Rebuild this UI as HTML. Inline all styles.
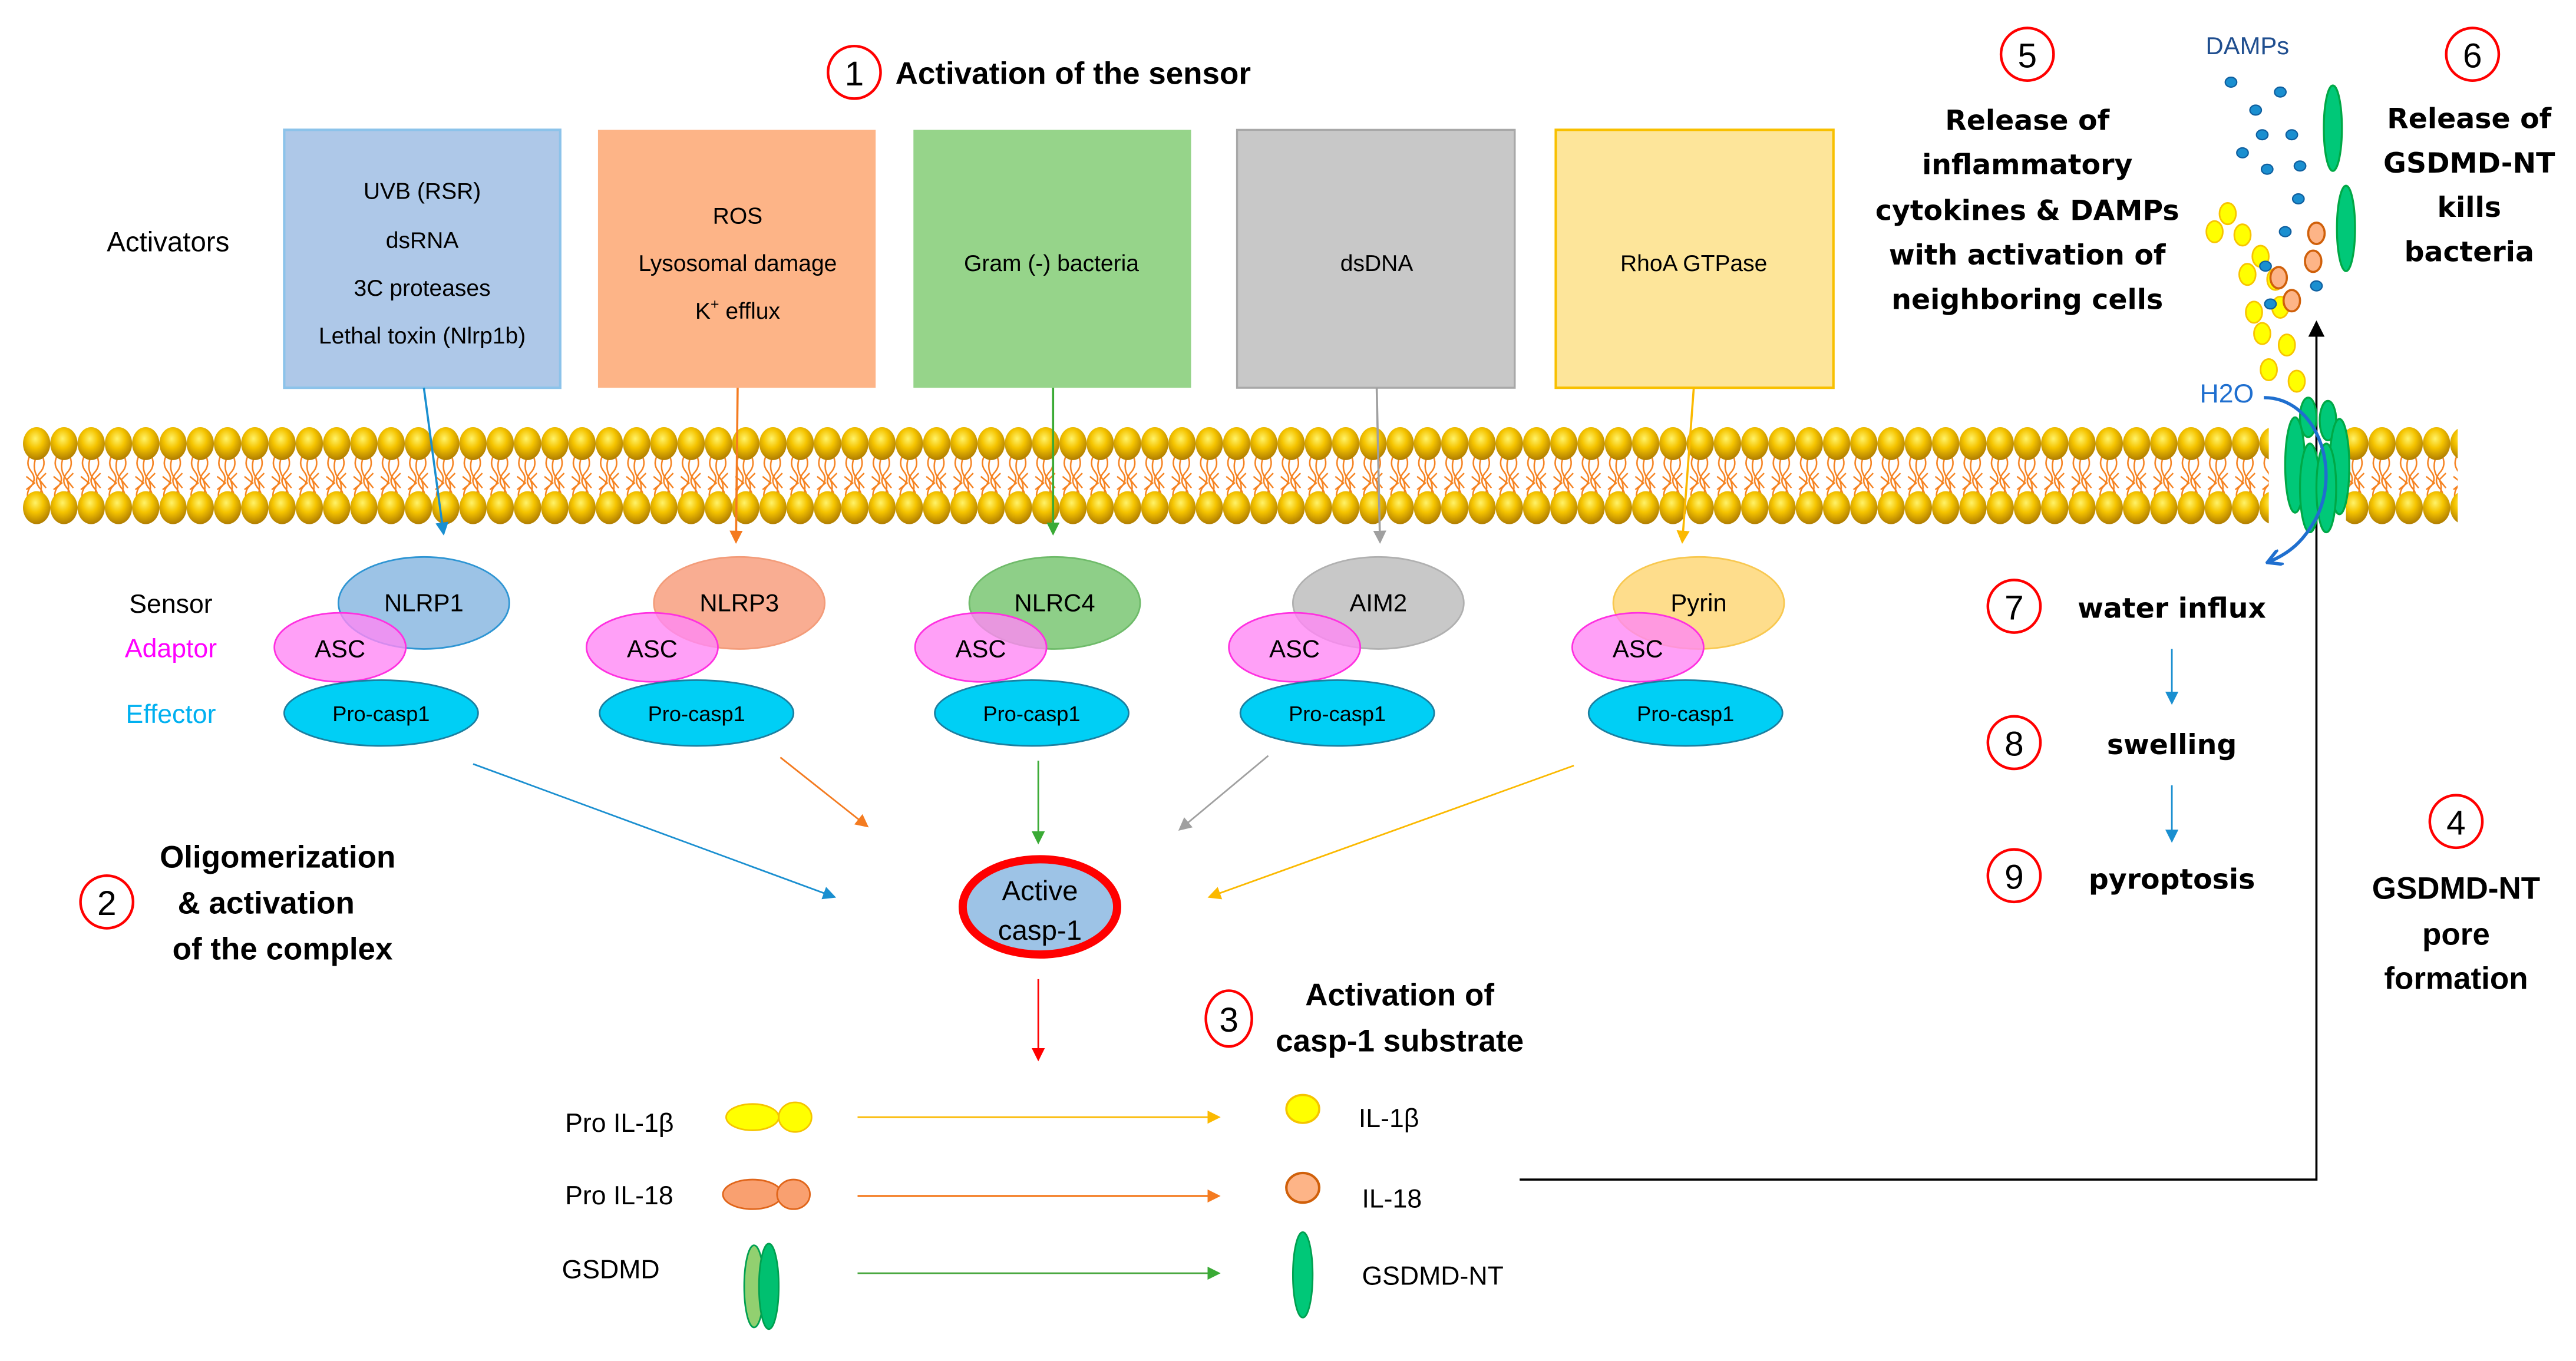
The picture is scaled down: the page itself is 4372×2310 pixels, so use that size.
<!DOCTYPE html>
<html><head><meta charset="utf-8"><style>
html,body{margin:0;padding:0;background:#fff;}
svg{display:block;}
.n{font-family:"Liberation Sans Narrow","Liberation Sans",sans-serif;}
.nb{font-family:"Liberation Sans Narrow","Liberation Sans",sans-serif;font-weight:bold;}
.w{font-family:"DejaVu Sans","Liberation Sans",sans-serif;font-weight:bold;}
</style></head><body>
<svg width="4372" height="2310" viewBox="0 0 1568 828.4" xmlns="http://www.w3.org/2000/svg">
<defs>
<radialGradient id="hg" cx="0.45" cy="0.35" r="0.65">
<stop offset="0" stop-color="#fff36a"/><stop offset="0.45" stop-color="#f5c400"/><stop offset="1" stop-color="#b07d00"/></radialGradient>
<pattern id="mem" patternUnits="userSpaceOnUse" x="14" y="0" width="16.6" height="828">
<path d="M5 276 q-4 6 0 11 q4 5 -1 10 q-3 5 1 11 M11 276 q4 7 -1 12 q-4 5 1 10 q3 5 -1 10 M8 278 q-3 8 2 14 q3 6 -2 14 M2 290 l5 4 l-5 4 M14 288 l-4 4 l4 5" stroke="#f58220" stroke-width="0.9" fill="none"/>
<ellipse cx="8.3" cy="270" rx="8.3" ry="10" fill="url(#hg)"/>
<ellipse cx="8.3" cy="309" rx="8.3" ry="10" fill="url(#hg)"/>
</pattern>
<marker id="mb" markerWidth="8" markerHeight="8" refX="7" refY="4" orient="auto" markerUnits="userSpaceOnUse"><path d="M0 0 L8 4 L0 8Z" fill="#1a8fd0"/></marker>
<marker id="mo" markerWidth="8" markerHeight="8" refX="7" refY="4" orient="auto" markerUnits="userSpaceOnUse"><path d="M0 0 L8 4 L0 8Z" fill="#f47b20"/></marker>
<marker id="mg" markerWidth="8" markerHeight="8" refX="7" refY="4" orient="auto" markerUnits="userSpaceOnUse"><path d="M0 0 L8 4 L0 8Z" fill="#3aaa35"/></marker>
<marker id="mgr" markerWidth="8" markerHeight="8" refX="7" refY="4" orient="auto" markerUnits="userSpaceOnUse"><path d="M0 0 L8 4 L0 8Z" fill="#a0a0a0"/></marker>
<marker id="my" markerWidth="8" markerHeight="8" refX="7" refY="4" orient="auto" markerUnits="userSpaceOnUse"><path d="M0 0 L8 4 L0 8Z" fill="#fbb900"/></marker>
<marker id="mr" markerWidth="8" markerHeight="8" refX="7" refY="4" orient="auto" markerUnits="userSpaceOnUse"><path d="M0 0 L8 4 L0 8Z" fill="#ff0000"/></marker>
<marker id="mk" markerWidth="10" markerHeight="10" refX="9" refY="5" orient="auto" markerUnits="userSpaceOnUse"><path d="M0 0 L10 5 L0 10Z" fill="#000"/></marker>
<marker id="mw" markerWidth="10" markerHeight="10" refX="8" refY="5" orient="auto" markerUnits="userSpaceOnUse"><path d="M0 0 L9 5 L0 10" fill="none" stroke="#1f6fcf" stroke-width="2"/></marker>
</defs>

<ellipse cx="520" cy="44" rx="16" ry="16" fill="none" stroke="#f00" stroke-width="1.6"/>
<text x="520" y="52" font-size="21" text-anchor="middle" class="n">1</text>
<text x="545" y="51" font-size="19" class="nb">Activation of the sensor</text>
<text x="65" y="153" font-size="17" class="n">Activators</text>

<rect x="173" y="79" width="168" height="157" fill="#aec8e8" stroke="#8cc3ea" stroke-width="1.5"/>
<g class="n" font-size="14" text-anchor="middle">
<text x="257" y="121">UVB (RSR)</text><text x="257" y="151">dsRNA</text><text x="257" y="180">3C proteases</text><text x="257" y="209">Lethal toxin (Nlrp1b)</text></g>
<rect x="364" y="79" width="169" height="157" fill="#fdb487"/>
<g class="n" font-size="14" text-anchor="middle">
<text x="449" y="136">ROS</text><text x="449" y="165">Lysosomal damage</text><text x="449" y="194">K<tspan font-size="9" dy="-6">+</tspan><tspan dy="6"> efflux</tspan></text></g>
<rect x="556" y="79" width="169" height="157" fill="#96d48a"/>
<text x="640" y="165" font-size="14" text-anchor="middle" class="n">Gram (-) bacteria</text>
<rect x="753" y="79" width="169" height="157" fill="#c8c8c8" stroke="#a8a8a8" stroke-width="1.2"/>
<text x="838" y="165" font-size="14" text-anchor="middle" class="n">dsDNA</text>
<rect x="947" y="79" width="169" height="157" fill="#fde59a" stroke="#f8c000" stroke-width="1.5"/>
<text x="1031" y="165" font-size="14" text-anchor="middle" class="n">RhoA GTPase</text>

<rect x="14" y="255" width="1367" height="70" fill="url(#mem)"/>
<rect x="1428" y="255" width="68" height="70" fill="url(#mem)"/>

<line x1="258" y1="236" x2="270" y2="325" stroke="#1a8fd0" stroke-width="1.3" marker-end="url(#mb)"/>
<line x1="449" y1="236" x2="448" y2="330" stroke="#f47b20" stroke-width="1.3" marker-end="url(#mo)"/>
<line x1="641" y1="236" x2="641" y2="325" stroke="#3aaa35" stroke-width="1.3" marker-end="url(#mg)"/>
<line x1="838" y1="236" x2="840" y2="330" stroke="#a0a0a0" stroke-width="1.3" marker-end="url(#mgr)"/>
<line x1="1031" y1="236" x2="1024" y2="330" stroke="#fbb900" stroke-width="1.3" marker-end="url(#my)"/>

<text x="104" y="373" font-size="16" text-anchor="middle" class="n">Sensor</text>
<text x="104" y="400" font-size="16" text-anchor="middle" class="n" fill="#ff00ff">Adaptor</text>
<text x="104" y="440" font-size="16" text-anchor="middle" class="n" fill="#00b0f0">Effector</text>

<g class="n" font-size="15" text-anchor="middle">
<ellipse cx="258" cy="367" rx="52" ry="28" fill="#9cc3e6" stroke="#2e95d3"/>
<ellipse cx="207" cy="394" rx="40" ry="21" fill="#ff88f5" fill-opacity="0.8" stroke="#ff30e0"/>
<ellipse cx="232" cy="434" rx="59" ry="20" fill="#00cff5" stroke="#1b7fa0"/>
<text x="258" y="372">NLRP1</text><text x="207" y="400">ASC</text><text x="232" y="439" font-size="13">Pro-casp1</text>

<ellipse cx="450" cy="367" rx="52" ry="28" fill="#f9ad92" stroke="#f39c7a"/>
<ellipse cx="397" cy="394" rx="40" ry="21" fill="#ff88f5" fill-opacity="0.8" stroke="#ff30e0"/>
<ellipse cx="424" cy="434" rx="59" ry="20" fill="#00cff5" stroke="#1b7fa0"/>
<text x="450" y="372">NLRP3</text><text x="397" y="400">ASC</text><text x="424" y="439" font-size="13">Pro-casp1</text>

<ellipse cx="642" cy="367" rx="52" ry="28" fill="#8ecf88" stroke="#6fbb6a"/>
<ellipse cx="597" cy="394" rx="40" ry="21" fill="#ff88f5" fill-opacity="0.8" stroke="#ff30e0"/>
<ellipse cx="628" cy="434" rx="59" ry="20" fill="#00cff5" stroke="#1b7fa0"/>
<text x="642" y="372">NLRC4</text><text x="597" y="400">ASC</text><text x="628" y="439" font-size="13">Pro-casp1</text>

<ellipse cx="839" cy="367" rx="52" ry="28" fill="#c8c8c8" stroke="#b0b0b0"/>
<ellipse cx="788" cy="394" rx="40" ry="21" fill="#ff88f5" fill-opacity="0.8" stroke="#ff30e0"/>
<ellipse cx="814" cy="434" rx="59" ry="20" fill="#00cff5" stroke="#1b7fa0"/>
<text x="839" y="372">AIM2</text><text x="788" y="400">ASC</text><text x="814" y="439" font-size="13">Pro-casp1</text>

<ellipse cx="1034" cy="367" rx="52" ry="28" fill="#fedd8c" stroke="#f8c850"/>
<ellipse cx="997" cy="394" rx="40" ry="21" fill="#ff88f5" fill-opacity="0.8" stroke="#ff30e0"/>
<ellipse cx="1026" cy="434" rx="59" ry="20" fill="#00cff5" stroke="#1b7fa0"/>
<text x="1034" y="372">Pyrin</text><text x="997" y="400">ASC</text><text x="1026" y="439" font-size="13">Pro-casp1</text>
</g>

<line x1="288" y1="465" x2="508" y2="546" stroke="#1a8fd0" stroke-width="1" marker-end="url(#mb)"/>
<line x1="475" y1="461" x2="528" y2="503" stroke="#f47b20" stroke-width="1" marker-end="url(#mo)"/>
<line x1="632" y1="463" x2="632" y2="513" stroke="#3aaa35" stroke-width="1" marker-end="url(#mg)"/>
<line x1="772" y1="460" x2="718" y2="505" stroke="#a0a0a0" stroke-width="1" marker-end="url(#mgr)"/>
<line x1="958" y1="466" x2="736" y2="546" stroke="#fbb900" stroke-width="1" marker-end="url(#my)"/>

<ellipse cx="633" cy="552" rx="47" ry="29" fill="#9dc3e6" stroke="#ff0000" stroke-width="5"/>
<text x="633" y="548" font-size="17" text-anchor="middle" class="n">Active</text>
<text x="633" y="572" font-size="17" text-anchor="middle" class="n">casp-1</text>
<line x1="632" y1="596" x2="632" y2="645" stroke="#ff0000" stroke-width="1" marker-end="url(#mr)"/>

<ellipse cx="65" cy="549" rx="16" ry="16" fill="none" stroke="#f00" stroke-width="1.6"/>
<text x="65" y="557" font-size="21" text-anchor="middle" class="n">2</text>
<g class="nb" font-size="19" text-anchor="middle">
<text x="169" y="528">Oligomerization</text><text x="162" y="556">&amp; activation</text><text x="172" y="584">of the complex</text></g>
<ellipse cx="748" cy="620" rx="14" ry="17" fill="none" stroke="#f00" stroke-width="1.6"/>
<text x="748" y="628" font-size="21" text-anchor="middle" class="n">3</text>
<g class="nb" font-size="19" text-anchor="middle">
<text x="852" y="612">Activation of</text><text x="852" y="640">casp-1 substrate</text></g>

<g class="n" font-size="16">
<text x="344" y="689">Pro IL-1β</text><text x="344" y="733">Pro IL-18</text><text x="342" y="778">GSDMD</text>
<text x="827" y="686">IL-1β</text><text x="829" y="735">IL-18</text><text x="829" y="782">GSDMD-NT</text></g>
<ellipse cx="458" cy="680" rx="16" ry="8" fill="#ffff00" stroke="#f5c400"/>
<ellipse cx="484" cy="680" rx="10" ry="9" fill="#ffff00" stroke="#f5c400"/>
<ellipse cx="458" cy="727" rx="18" ry="9" fill="#f9a070" stroke="#e0651a"/>
<ellipse cx="483" cy="727" rx="10" ry="9" fill="#f9a070" stroke="#e0651a"/>
<ellipse cx="459" cy="783" rx="6" ry="25" fill="#92d070" stroke="#00a050"/>
<ellipse cx="468" cy="783" rx="6" ry="26" fill="#00c070" stroke="#00a050"/>
<line x1="522" y1="680" x2="742" y2="680" stroke="#fbb900" stroke-width="1" marker-end="url(#my)"/>
<line x1="522" y1="728" x2="742" y2="728" stroke="#f47b20" stroke-width="1.2" marker-end="url(#mo)"/>
<line x1="522" y1="775" x2="742" y2="775" stroke="#4aa840" stroke-width="1" marker-end="url(#mg)"/>
<ellipse cx="793" cy="675" rx="10" ry="8.5" fill="#ffff00" stroke="#f5c400" stroke-width="1.3"/>
<ellipse cx="793" cy="723" rx="10" ry="9" fill="#fdb487" stroke="#d0600a" stroke-width="1.5"/>
<ellipse cx="793" cy="776" rx="6" ry="26" fill="#00c878" stroke="#00a050"/>

<polyline points="925,718 1410,718 1410,196" fill="none" stroke="#000" stroke-width="1.3" marker-end="url(#mk)"/>

<ellipse cx="1495" cy="500" rx="16" ry="16" fill="none" stroke="#f00" stroke-width="1.6"/>
<text x="1495" y="508" font-size="21" text-anchor="middle" class="n">4</text>
<g class="nb" font-size="19" text-anchor="middle">
<text x="1495" y="547">GSDMD-NT</text><text x="1495" y="575">pore</text><text x="1495" y="602">formation</text></g>

<g class="n" font-size="21" text-anchor="middle">
<ellipse cx="1226" cy="369" rx="16" ry="16" fill="none" stroke="#f00" stroke-width="1.6"/><text x="1226" y="377">7</text>
<ellipse cx="1226" cy="452" rx="16" ry="16" fill="none" stroke="#f00" stroke-width="1.6"/><text x="1226" y="460">8</text>
<ellipse cx="1226" cy="533" rx="16" ry="16" fill="none" stroke="#f00" stroke-width="1.6"/><text x="1226" y="541">9</text></g>
<g class="w" font-size="17" text-anchor="middle">
<text x="1322" y="376">water influx</text><text x="1322" y="459">swelling</text><text x="1322" y="541">pyroptosis</text></g>
<line x1="1322" y1="395" x2="1322" y2="428" stroke="#1a8fd0" stroke-width="1" marker-end="url(#mb)"/>
<line x1="1322" y1="478" x2="1322" y2="512" stroke="#1a8fd0" stroke-width="1" marker-end="url(#mb)"/>

<ellipse cx="1234" cy="33" rx="16" ry="16" fill="none" stroke="#f00" stroke-width="1.6"/>
<text x="1234" y="41" font-size="21" text-anchor="middle" class="n">5</text>
<g class="w" font-size="17" text-anchor="middle">
<text x="1234" y="79">Release of</text><text x="1234" y="106">inflammatory</text><text x="1234" y="134">cytokines &amp; DAMPs</text><text x="1234" y="161">with activation of</text><text x="1234" y="188">neighboring cells</text></g>
<ellipse cx="1505" cy="33" rx="16" ry="16" fill="none" stroke="#f00" stroke-width="1.6"/>
<text x="1505" y="41" font-size="21" text-anchor="middle" class="n">6</text>
<g class="w" font-size="17" text-anchor="middle">
<text x="1503" y="78">Release of</text><text x="1503" y="105">GSDMD-NT</text><text x="1503" y="132">kills</text><text x="1503" y="159">bacteria</text></g>

<text x="1368" y="33" font-size="15" text-anchor="middle" font-family="Liberation Sans, sans-serif" fill="#1f4e8f">DAMPs</text>
<g fill="#ffff00" stroke="#f8c400" stroke-width="1">
<ellipse cx="1356" cy="130" rx="5" ry="6.5"/><ellipse cx="1348" cy="141" rx="5" ry="6.5"/><ellipse cx="1365" cy="143" rx="5" ry="6.5"/><ellipse cx="1376" cy="156" rx="5" ry="6.5"/><ellipse cx="1368" cy="167" rx="5" ry="6.5"/><ellipse cx="1385" cy="170" rx="5" ry="6.5"/><ellipse cx="1388" cy="187" rx="5" ry="6.5"/><ellipse cx="1372" cy="190" rx="5" ry="6.5"/><ellipse cx="1377" cy="203" rx="5" ry="6.5"/><ellipse cx="1392" cy="210" rx="5" ry="6.5"/><ellipse cx="1381" cy="225" rx="5" ry="6.5"/><ellipse cx="1398" cy="232" rx="5" ry="6.5"/></g>
<g fill="#fdb487" stroke="#d0600a" stroke-width="1.3">
<ellipse cx="1410" cy="142" rx="5" ry="6.5"/><ellipse cx="1408" cy="159" rx="5" ry="6.5"/><ellipse cx="1387" cy="169" rx="5" ry="6.5"/><ellipse cx="1395" cy="183" rx="5" ry="6.5"/></g>
<g fill="#1a8fd0" stroke="#0f5f9f" stroke-width="0.8">
<ellipse cx="1358" cy="50" rx="3.5" ry="3"/><ellipse cx="1388" cy="56" rx="3.5" ry="3"/><ellipse cx="1373" cy="67" rx="3.5" ry="3"/><ellipse cx="1377" cy="82" rx="3.5" ry="3"/><ellipse cx="1395" cy="82" rx="3.5" ry="3"/><ellipse cx="1365" cy="93" rx="3.5" ry="3"/><ellipse cx="1380" cy="103" rx="3.5" ry="3"/><ellipse cx="1400" cy="101" rx="3.5" ry="3"/><ellipse cx="1399" cy="121" rx="3.5" ry="3"/><ellipse cx="1391" cy="141" rx="3.5" ry="3"/><ellipse cx="1379" cy="162" rx="3.5" ry="3"/><ellipse cx="1410" cy="174" rx="3.5" ry="3"/><ellipse cx="1382" cy="185" rx="3.5" ry="3"/></g>
<g fill="#00c878" stroke="#00a846" stroke-width="1.2">
<ellipse cx="1420" cy="78" rx="5.5" ry="26"/><ellipse cx="1428" cy="139" rx="5.5" ry="26"/>
<ellipse cx="1405" cy="254" rx="5" ry="12"/><ellipse cx="1417" cy="256" rx="5" ry="12"/>
<ellipse cx="1397" cy="283" rx="6" ry="29"/><ellipse cx="1424" cy="284" rx="6" ry="29"/>
<ellipse cx="1406" cy="297" rx="6" ry="27"/><ellipse cx="1416" cy="297" rx="6" ry="27"/></g>
<text x="1339" y="245" font-size="16" font-family="Liberation Sans, sans-serif" fill="#1f6fcf">H2O</text>
<path d="M1378 242 C1410 242 1425 285 1410 315 C1402 330 1393 337 1381 342" fill="none" stroke="#1f6fcf" stroke-width="2" marker-end="url(#mw)"/>
</svg>
</body></html>
